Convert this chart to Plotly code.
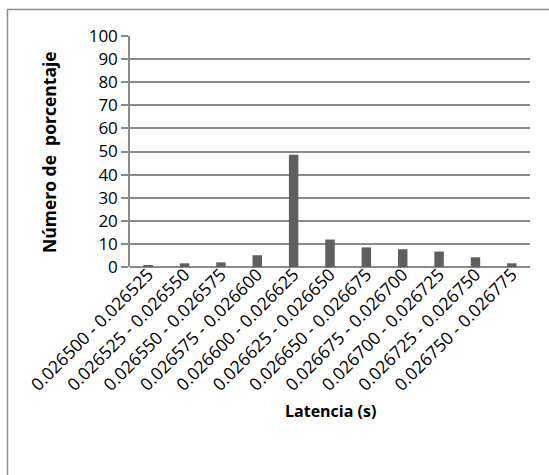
import plotly.graph_objects as go

categories = ["0.026500 - 0.026525", "0.026525 - 0.026550", "0.026550 - 0.026575",
              "0.026575 - 0.026600", "0.026600 - 0.026625", "0.026625 - 0.026650",
              "0.026650 - 0.026675", "0.026675 - 0.026700", "0.026700 - 0.026725",
              "0.026725 - 0.026750", "0.026750 - 0.026775"]
values = [0.6, 1.6, 2.0, 5.1, 48.6, 11.9, 8.5, 7.7, 6.7, 4.2, 1.6]
y_ticks = list(range(0, 101, 10))

W, H = 549, 475
L, R, T, B = 130, 530, 36, 267
pw, ph = R - L, B - T

def px_x(x):
    return (x - L) / pw

def px_y(y):
    return (B - y) / ph

font_family = "'Open Sans', sans-serif"

fig = go.Figure(go.Bar(x=categories, y=values, marker=dict(color="#5f5f5f", line=dict(width=0)),
                       width=0.26))

fig.update_layout(
    width=W, height=H,
    margin=dict(l=L, r=W - R, t=T, b=H - B, autoexpand=False),
    plot_bgcolor="white", paper_bgcolor="white",
    showlegend=False,
    font=dict(family=font_family, color="#000000"),
    xaxis=dict(tickangle=-45, tickfont=dict(size=17.5, family=font_family), showgrid=False,
               showline=False, ticks="", zeroline=False, automargin=False,
               ticklabelstandoff=-7),
    yaxis=dict(range=[0, 100], tickvals=y_ticks, tickfont=dict(size=17, family=font_family),
               showgrid=True, gridcolor="#8a8a8a", gridwidth=1.5,
               showline=True, linecolor="#8a8a8a", linewidth=1.5,
               ticks="outside", ticklen=7, tickcolor="#8a8a8a", tickwidth=1.5,
               zeroline=True, zerolinecolor="#8a8a8a", zerolinewidth=1.5, automargin=False),
    shapes=[dict(type="rect", xref="paper", yref="paper",
                 x0=px_x(7.5), x1=px_x(560), y0=px_y(490), y1=px_y(9.5),
                 line=dict(color="#8c8c8c", width=1.5), fillcolor="rgba(0,0,0,0)", layer="below")],
    annotations=[
        dict(text="<b>Número de\u00a0 porcentaje</b>", xref="paper", yref="paper",
             x=px_x(49), y=px_y(152), textangle=-90, showarrow=False,
             font=dict(size=17.5, family=font_family), xanchor="center", yanchor="middle"),
        dict(text="<b>Latencia (s)</b>", xref="paper", yref="paper",
             x=px_x(330), y=px_y(411), showarrow=False,
             font=dict(size=16, family=font_family), xanchor="center", yanchor="middle"),
    ],
)

fig.write_html("out.html", config={"displayModeBar": False},
               post_script="document.body.style.margin='0';document.body.style.padding='0';")
